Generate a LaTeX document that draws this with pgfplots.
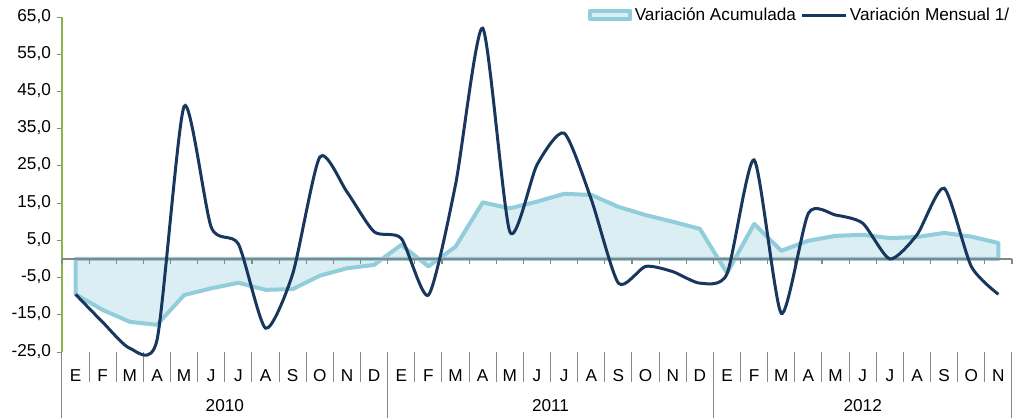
\documentclass[border=0pt]{standalone}
\usepackage{pgfplots}
\pgfplotsset{compat=1.18}
\usepackage{fontspec}
\setmainfont{Liberation Sans}
\definecolor{acu}{RGB}{146,205,220}
\definecolor{acufill}{RGB}{218,238,243}
\definecolor{men}{RGB}{23,55,94}
\definecolor{axgreen}{RGB}{140,180,70}
\definecolor{sepgray}{RGB}{134,134,134}
\begin{document}
\fontsize{8.6}{10}\selectfont
\begin{tikzpicture}
\begin{axis}[
  at={(0,0)}, anchor=south west,
  scale only axis, width=475pt, height=167.5pt,
  xmin=-0.5, xmax=34.5, ymin=-25, ymax=65,
  axis lines*=left,
  x axis line style={draw=none},
  y axis line style={draw=axgreen, line width=0.7pt},
  xtick={0,...,34},
  xticklabels={E,F,M,A,M,J,J,A,S,O,N,D,E,F,M,A,M,J,J,A,S,O,N,D,E,F,M,A,M,J,J,A,S,O,N},
  x tick style={draw=none},
  typeset ticklabels with strut,
  xticklabel style={anchor=center, yshift=-10pt},
  ytick={-25,-15,...,65},
  y tick style={draw=sepgray, line width=0.5pt},
  tick align=outside,
  major tick length=2.5pt,
  yticklabel style={/pgf/number format/.cd, fixed, fixed zerofill, precision=1, use comma, assume math mode=true},
  tick label style={font=\fontsize{8.6}{10}\selectfont},
  legend style={at={(1,1)}, anchor=east, yshift=1pt, draw=none, fill=none,
    legend columns=2, font=\fontsize{8.6}{10}\selectfont,
    nodes={inner sep=1.2pt},
    /tikz/every even column/.append style={column sep=1pt},
    inner sep=0pt},
  legend cell align=left,
  clip=false,
]
\addplot[draw=acu, fill=acufill, line width=2pt, line join=round,
  legend image code/.code={\draw[draw=acu, fill=acufill, line width=2pt] (0pt,-2pt) rectangle (20pt,2pt);}]
  coordinates {
  (0,-9.5) (1,-13.7) (2,-16.9) (3,-17.7) (4,-9.7) (5,-7.9) (6,-6.4) (7,-8.3) (8,-8.1) (9,-4.5) (10,-2.5) (11,-1.6)
  (12,3.8) (13,-2) (14,3.3) (15,15.2) (16,13.6) (17,15.4) (18,17.5) (19,17.2) (20,14) (21,11.8) (22,10) (23,8.1)
  (24,-3.8) (25,9.4) (26,2.2) (27,4.9) (28,6.2) (29,6.5) (30,5.6) (31,5.9) (32,7) (33,6) (34,4.3)
  } \closedcycle;
\addlegendentry{Variación Acumulada}
\draw[sepgray, line width=0.8pt] (axis cs:-0.5,0) -- (axis cs:34.5,0);
\pgfplotsinvokeforeach{-0.5,0.5,...,34.5}{
  \draw[sepgray, line width=0.6pt] (axis cs:#1,0) -- ([yshift=-2.5pt]axis cs:#1,0);
  \draw[sepgray, line width=0.5pt] (axis cs:#1,-25) -- ([yshift=-15pt]axis cs:#1,-25);
}
\pgfplotsinvokeforeach{-0.5,11.5,23.5,34.5}{
  \draw[sepgray, line width=0.5pt] (axis cs:#1,-25) -- ([yshift=-33pt]axis cs:#1,-25);
}
\node[anchor=center] at (axis cs:5.5,-25) [yshift=-27pt] {2010};
\node[anchor=center] at (axis cs:17.5,-25) [yshift=-27pt] {2011};
\node[anchor=center] at (axis cs:29,-25) [yshift=-27pt] {2012};
\addplot[draw=men, line width=1.5pt, smooth, tension=0.4,
  legend image code/.code={\draw[draw=men, line width=1.5pt] (0pt,0pt) -- (22pt,0pt);}]
  coordinates {
  (0,-9.5) (1,-17) (2,-24) (3,-21.8) (4,41) (5,8.5) (6,4) (7,-18.6) (8,-4) (9,27.4) (10,18) (11,7.3)
  (12,5.5) (13,-9.7) (14,20) (15,62) (16,7.3) (17,25.3) (18,33.8) (19,16) (20,-6.5) (21,-2) (22,-3.4) (23,-6.5)
  (24,-4) (25,26.6) (26,-14.6) (27,12.3) (28,11.8) (29,9.6) (30,0) (31,6.5) (32,19) (33,-2) (34,-9.5)
  };
\addlegendentry{Variación Mensual 1/}
\end{axis}
\pgfresetboundingbox
\path (-31pt,-33pt) rectangle (478pt,176pt);
\end{tikzpicture}
\end{document}
